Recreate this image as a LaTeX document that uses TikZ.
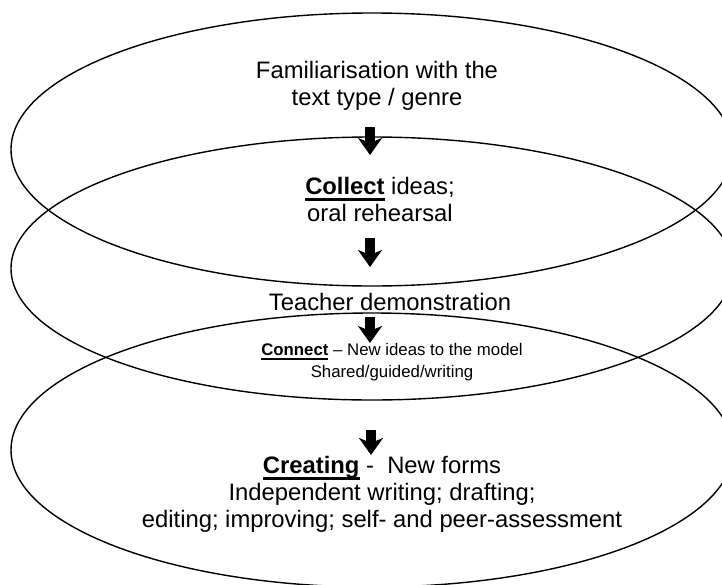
\documentclass[tikz,border=0pt]{standalone}
\usepackage{fontspec}
\setmainfont{Liberation Sans}
\usetikzlibrary{arrows.meta}
\newcommand{\stagekey}[1]{\leavevmode\setbox0\hbox{\bfseries #1}\rlap{\rule[-0.28em]{\wd0}{0.12em}}\box0\relax}
\tikzset{
   stageoval/.style={
     draw=black, line width=1.4pt
   },
   stagetext/.style={
      align=center,
      font=\fontsize{23.8}{27}\selectfont
   },
   smalltext/.style={
      stagetext,
      font=\fontsize{16.8}{22}\selectfont
   },
   downarrow/.style={line width=10pt, -{Stealth[length=17pt, width=24pt, inset=5pt]}}
}

\begin{document}
\begin{tikzpicture}[x=1pt, y=-1pt]
            \useasboundingbox (0,0) rectangle (722,584);
            \clip (0,0) rectangle (722,584);
            % the three stages
            \draw[stageoval] (372,149.5) ellipse [x radius=361, y radius=136.5];
            \draw[stageoval] (372,268.5) ellipse [x radius=361, y radius=131.5];
            \draw[stageoval] (372,450) ellipse [x radius=361, y radius=137];

            \node[stagetext](familiar) at (377,86) {Familiarisation with the\\text type / genre};
            \node[stagetext](collect) at (380,199) {\stagekey{Collect} ideas;\\oral rehearsal};
            \node[stagetext](teacher) at (390,302) {Teacher demonstration};
            \node[smalltext](connect) at (392,362) {\stagekey{Connect} -- New ideas to the model\\Shared/guided/writing};
            \node[stagetext](creating) at (382,494) {\stagekey{Creating} -\ \ New forms\\Independent writing; drafting;\\editing; improving; self- and peer-assessment};

            % arrows between the stages
            \coordinate (a1top) at (370,127);
            \coordinate (a1tip) at (370,155);
            \coordinate (a2top) at (370,238);
            \coordinate (a2tip) at (370,267);
            \coordinate (a3top) at (370,317);
            \coordinate (a3tip) at (370,343);
            \coordinate (a4top) at (371,430);
            \coordinate (a4tip) at (371,455);
            \draw[downarrow] (a1top) -- (a1tip);
            \draw[downarrow] (a2top) -- (a2tip);
            \draw[downarrow] (a3top) -- (a3tip);
            \draw[downarrow] (a4top) -- (a4tip);
         \end{tikzpicture}
\end{document}
